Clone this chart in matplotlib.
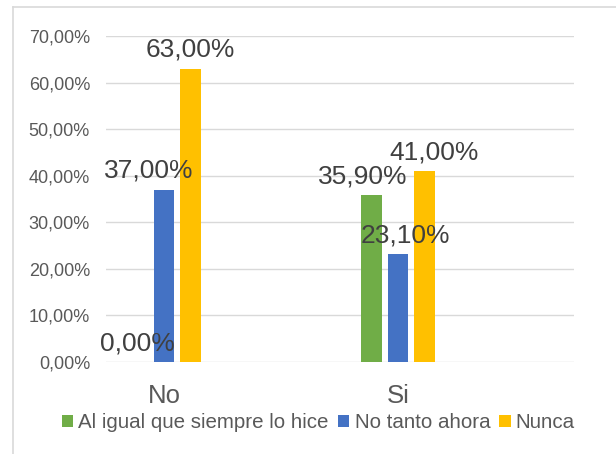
import matplotlib.pyplot as plt
from matplotlib.lines import Line2D
from matplotlib.patches import Patch
import numpy as np

plt.rcParams["font.family"] = ["Liberation Sans", "DejaVu Sans"]

categories = ["No", "Si"]
series = ["Al igual que siempre lo hice", "No tanto ahora", "Nunca"]
values = [
    [0.0, 35.9],   # Al igual que siempre lo hice
    [37.0, 23.1],  # No tanto ahora
    [63.0, 41.0],  # Nunca
]
colors = ["#70AD47", "#4472C4", "#FFC000"]
yticks = [0, 10, 20, 30, 40, 50, 60, 70]

# small horizontal nudges (px) for the data labels, as in the original layout
nudge = [[0, -9], [-15, 7], [0, 10]]

W, H = 616, 454
fig = plt.figure(figsize=(W / 100, H / 100), dpi=100)
ax = fig.add_axes([106 / W, 1 - 362 / H, 468 / W, 326 / H])

x = np.arange(len(categories))
bw = 0.088
step = 0.113
for i, (name, vals, c) in enumerate(zip(series, values, colors)):
    pos = x + (i - 1) * step
    ax.bar(pos, vals, width=bw, color=c, label=name, zorder=3)
    for j, (p, v) in enumerate(zip(pos, vals)):
        ax.annotate(f"{v:.2f}%".replace(".", ","), (p, v),
                    xytext=(nudge[i][j] * 0.72, 8.5), textcoords="offset points",
                    ha="center", va="baseline", fontsize=19,
                    color="#404040", zorder=4, annotation_clip=False)

ax.set_xlim(-0.248, 1.752)
ax.set_ylim(0, 70)
ax.set_yticks(yticks)
ax.set_yticklabels([f"{t:.2f}%".replace(".", ",") for t in yticks],
                   fontsize=13, color="#595959")
ax.set_xticks(x)
ax.set_xticklabels(categories, fontsize=18.5, color="#595959")
ax.tick_params(axis="y", length=0, pad=11.5)
ax.tick_params(axis="x", length=0, pad=15.5)
ax.grid(axis="y", color="#D9D9D9", linewidth=1.0, zorder=0)
for s in ax.spines.values():
    s.set_visible(False)

handles = [Patch(facecolor=c, edgecolor="none") for c in colors]
fig.legend(handles, series, loc="center", bbox_to_anchor=(318.5 / W, 1 - 423 / H),
           ncol=3, frameon=False, fontsize=14.8, handlelength=0.55, handleheight=0.55,
           handletextpad=0.25, columnspacing=0.45, labelcolor="#595959",
           borderaxespad=0, borderpad=0)

# chart border (top and left edges visible in the crop)
fig.add_artist(Line2D([13 / W, 13 / W], [0, 1 - 7 / H], transform=fig.transFigure,
                      color="#D9D9D9", linewidth=1.2))
fig.add_artist(Line2D([13 / W, 1], [1 - 7 / H, 1 - 7 / H], transform=fig.transFigure,
                      color="#D9D9D9", linewidth=1.2))

fig.savefig("out.png", dpi=100)
